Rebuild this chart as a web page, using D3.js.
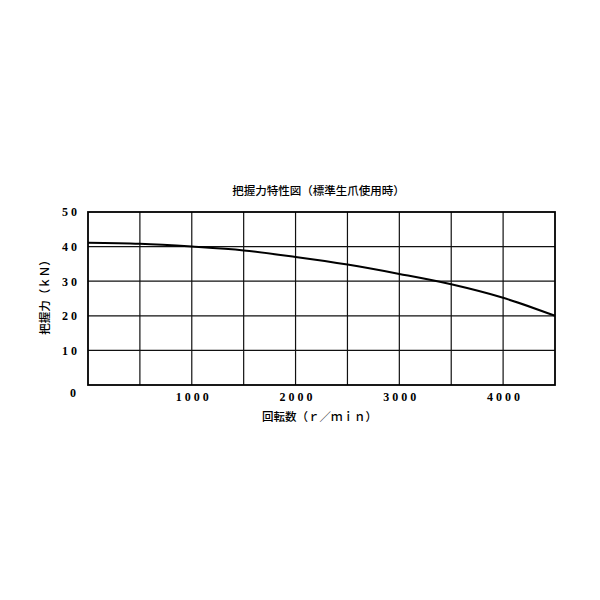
<!DOCTYPE html>
<html>
<head>
<meta charset="utf-8">
<script src="https://cdn.jsdelivr.net/npm/d3@7"></script>
<style>
body { margin: 0; background: #fff; }
.tick text { font-family: "Liberation Serif", serif; }
</style>
</head>
<body>
<div id="chart"></div>
<script>
var width = 600,
height = 600,
margin = {top: 212, right: 45, bottom: 215, left: 88};

// 回転数 (r/min) と 把握力 (kN)
var rpm = [0, 500, 1000, 1500, 2000, 2500, 3000, 3500, 4000, 4500];
var force = [41.1, 40.8, 40.0, 38.9, 37.0, 34.8, 32.1, 29.1, 25.2, 20.0];
var xTicks = [1000, 2000, 3000, 4000];
var yTicks = [10, 20, 30, 40, 50];
var xGrid = [500, 1000, 1500, 2000, 2500, 3000, 3500, 4000];
var yGrid = [10, 20, 30, 40];

var svg = d3.select("#chart")
.append("svg")
.attr("width", width)
.attr("height", height)
.append("g")
.attr("transform", `translate(${margin.left},${margin.top})`);

var w = width - margin.left - margin.right,
h = height - margin.top - margin.bottom;

var xScale = d3.scaleLinear().domain([0, 4500]).range([0, w]);
var yScale = d3.scaleLinear().domain([0, 50]).range([h, 0]);

// grid
svg.selectAll(".vgrid")
.data(xGrid)
.enter().append("line")
.attr("x1", d => xScale(d)).attr("x2", d => xScale(d))
.attr("y1", 0).attr("y2", h)
.attr("stroke", "#111").attr("stroke-width", 1.2);

svg.selectAll(".hgrid")
.data(yGrid)
.enter().append("line")
.attr("y1", d => yScale(d)).attr("y2", d => yScale(d))
.attr("x1", 0).attr("x2", w)
.attr("stroke", "#111").attr("stroke-width", 1.2);

// frame
svg.append("rect")
.attr("width", w).attr("height", h)
.attr("fill", "none").attr("stroke", "#000").attr("stroke-width", 1.8);

// axes (labels only)
var xAxis = d3.axisBottom(xScale).tickValues(xTicks).tickSize(0).tickPadding(7).tickFormat(d3.format("d"));
var yAxis = d3.axisLeft(yScale).tickValues(yTicks).tickSize(0).tickPadding(11).tickFormat(d3.format("d"));

var gx = svg.append("g")
.attr("transform", `translate(0,${h})`)
.call(xAxis);
var gy = svg.append("g").call(yAxis);
[gx, gy].forEach(g => {
  g.select(".domain").remove();
  g.selectAll("text")
   .attr("font-size", 12)
   .attr("font-weight", "bold")
   .attr("fill", "#000")
   .style("letter-spacing", "3px");
});
gx.selectAll("text").attr("dx", "1.5px");
gy.selectAll("text").attr("dx", "3px");

// origin label
svg.append("text")
.attr("x", -12).attr("y", h + 12)
.attr("text-anchor", "end")
.attr("font-family", "Liberation Serif, serif")
.attr("font-weight", "bold")
.attr("font-size", 12)
.text("0");

// curve
var line = d3.line()
.x(d => xScale(d[0]))
.y(d => yScale(d[1]))
.curve(d3.curveMonotoneX);

svg.append("path")
.datum(d3.zip(rpm, force))
.attr("d", line)
.attr("fill", "none")
.attr("stroke", "#000")
.attr("stroke-width", 2);

// titles
var cjk = "'Noto Sans CJK JP', sans-serif";
svg.append("text")
.attr("x", w / 2 - 3).attr("y", -17)
.attr("text-anchor", "middle")
.attr("font-family", cjk)
.attr("font-weight", 500)
.attr("font-size", 11.5)
.text("把握力特性図（標準生爪使用時）");

svg.append("text")
.attr("x", w / 2 - 2).attr("y", h + 36)
.attr("text-anchor", "middle")
.attr("font-family", cjk)
.attr("font-weight", 500)
.attr("font-size", 11.5)
.text("回転数（ｒ／ｍｉｎ）");

svg.append("text")
.attr("transform", `translate(-39,${h / 2 - 4}) rotate(-90)`)
.attr("text-anchor", "middle")
.attr("font-family", cjk)
.attr("font-weight", 500)
.attr("font-size", 11.5)
.text("把握力（ｋＮ）");
</script>
</body>
</html>
